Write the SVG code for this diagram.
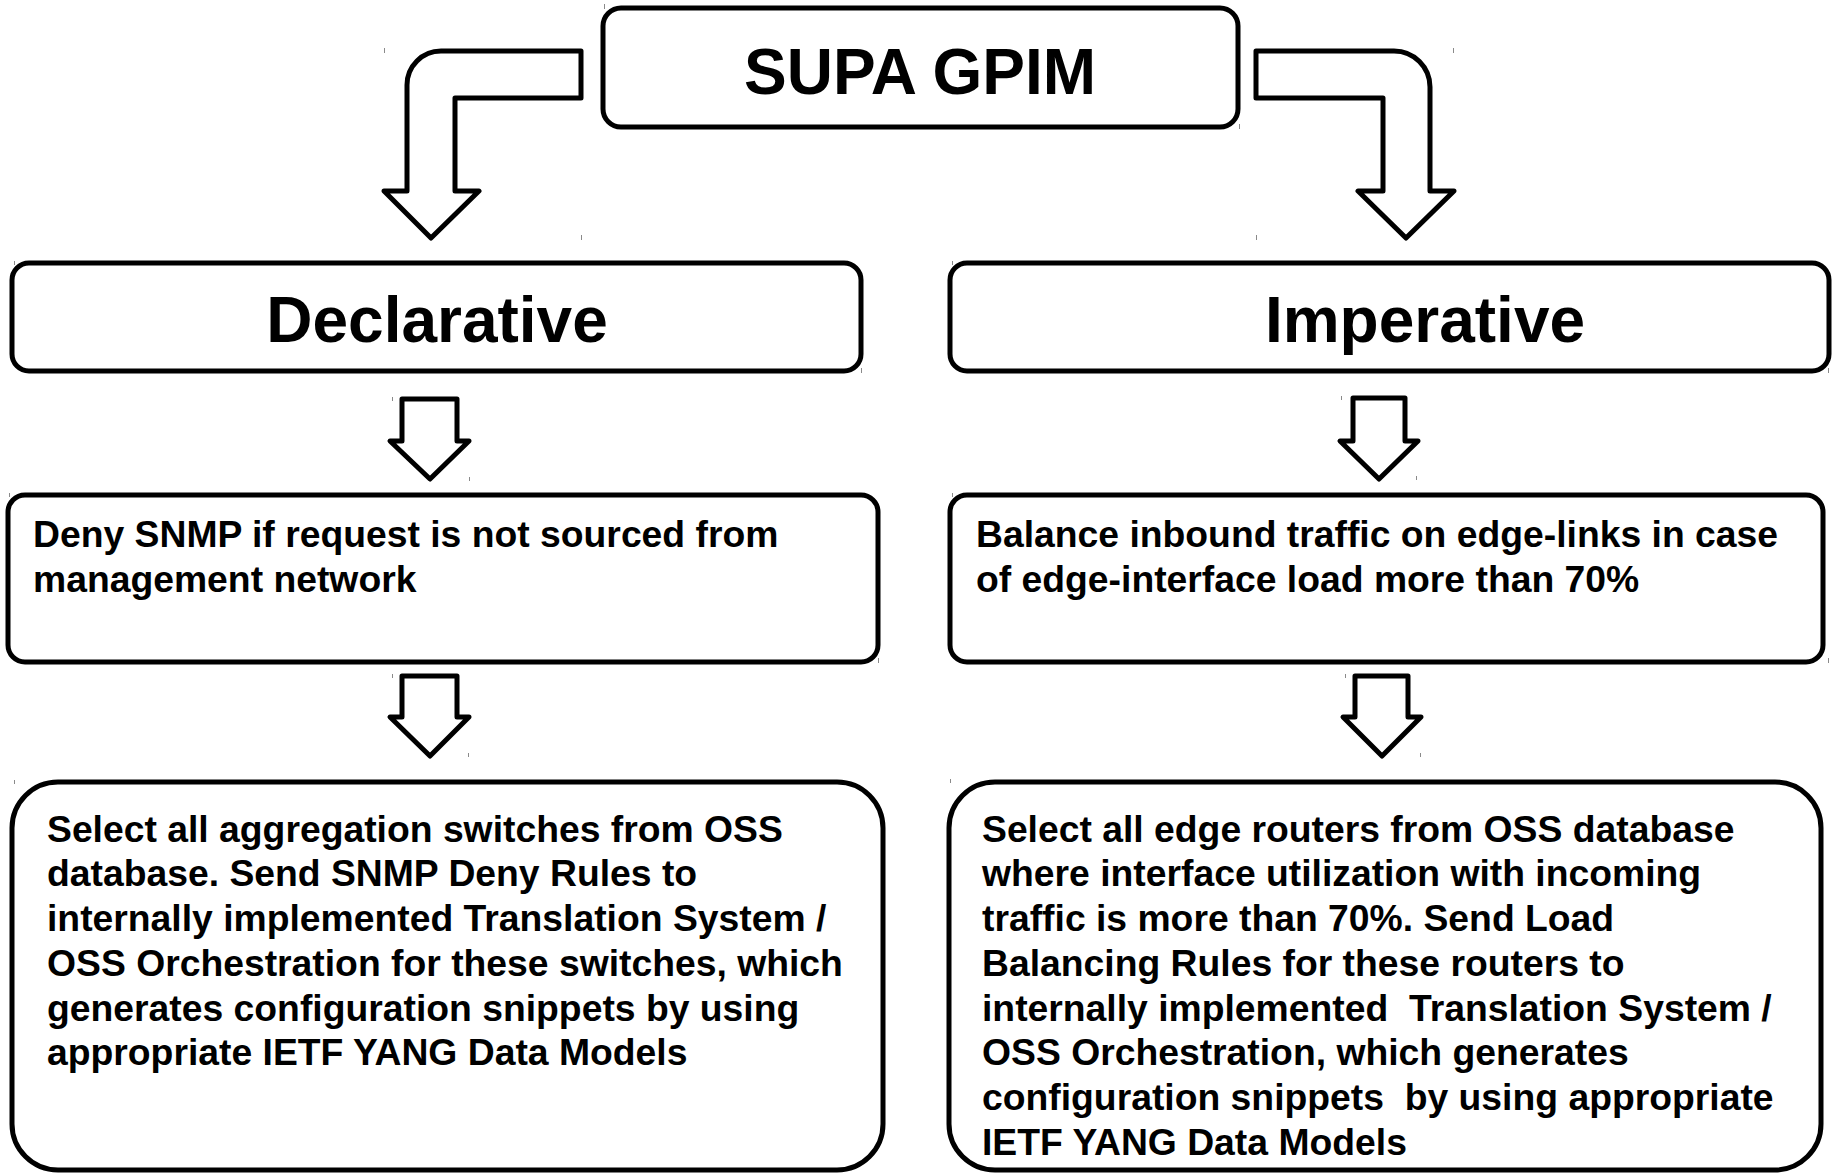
<svg xmlns="http://www.w3.org/2000/svg" width="1837" height="1173" viewBox="0 0 1837 1173">
  <style>
    .box { fill: #ffffff; stroke: #000000; stroke-width: 5; }
    .arrow { fill: #ffffff; stroke: #000000; stroke-width: 5; stroke-linejoin: round; }
    .title { font-family: "Liberation Sans", Arial, sans-serif; font-weight: bold; font-size: 64px; fill: #000000; text-anchor: middle; }
    .body { font-family: "Liberation Sans", Arial, sans-serif; font-weight: bold; font-size: 37.3px; fill: #000000; white-space: pre; }
    .tick { stroke: #8a8a8a; stroke-width: 1; }
  </style>

  <rect width="1837" height="1173" fill="#ffffff"/>

  <!-- connectors: bent and straight block arrows -->
  <g id="connectors">
    <path id="arrow-gpim-declarative" class="arrow" d="M 581 51 L 441 51 A 34 34 0 0 0 407 85 L 407 191 L 384 191 L 431 238 L 479 191 L 455 191 L 455 98 L 581 98 Z"/>
    <path id="arrow-gpim-imperative" class="arrow" d="M 1256 51 L 1394 51 A 36 36 0 0 1 1430 87 L 1430 191 L 1454 191 L 1406 238 L 1358 191 L 1383 191 L 1383 98 L 1256 98 Z"/>
    <path id="arrow-declarative-deny" class="arrow" d="M 402 399 L 457 399 L 457 441 L 469 441 L 430 479 L 390 441 L 402 441 Z"/>
    <path id="arrow-imperative-balance" class="arrow" d="M 1353 398 L 1405 398 L 1405 441 L 1418 441 L 1379 479 L 1340 441 L 1353 441 Z"/>
    <path id="arrow-deny-select" class="arrow" d="M 402 676 L 457 676 L 457 717 L 469 717 L 430 756 L 390 717 L 402 717 Z"/>
    <path id="arrow-balance-select" class="arrow" d="M 1355 676 L 1408 676 L 1408 717 L 1421 717 L 1382 756 L 1343 717 L 1355 717 Z"/>
  </g>

  <!-- top node -->
  <g id="node-supa-gpim">
    <rect class="box" x="603" y="8" width="635" height="119" rx="18"/>
    <text class="title" x="920" y="94">SUPA GPIM</text>
  </g>

  <g id="node-declarative">
    <rect class="box" x="12" y="263" width="849" height="108" rx="17"/>
    <text class="title" x="437" y="342">Declarative</text>
  </g>

  <g id="node-imperative">
    <rect class="box" x="950" y="263" width="879" height="108" rx="17"/>
    <text class="title" x="1425" y="342">Imperative</text>
  </g>

  <g id="node-deny-snmp">
    <rect class="box" x="8" y="495" width="870" height="167" rx="17"/>
    <text class="body" x="33" y="547">Deny SNMP if request is not sourced from</text>
    <text class="body" x="33" y="591.7">management network</text>
  </g>

  <g id="node-balance-traffic">
    <rect class="box" x="950" y="495" width="873" height="167" rx="17"/>
    <text class="body" x="976" y="547">Balance inbound traffic on edge-links in case</text>
    <text class="body" x="976" y="591.7">of edge-interface load more than 70%</text>
  </g>

  <g id="node-select-switches">
    <rect class="box" x="12" y="782" width="871" height="388" rx="46"/>
    <text class="body" x="47" y="841.7">Select all aggregation switches from OSS</text>
    <text class="body" x="47" y="886.4">database. Send SNMP Deny Rules to</text>
    <text class="body" x="47" y="931.1">internally implemented Translation System /</text>
    <text class="body" x="47" y="975.8">OSS Orchestration for these switches, which</text>
    <text class="body" x="47" y="1020.5">generates configuration snippets by using</text>
    <text class="body" x="47" y="1065.2">appropriate IETF YANG Data Models</text>
  </g>

  <g id="node-select-routers">
    <rect class="box" x="949" y="782" width="872" height="388" rx="46"/>
    <text class="body" x="982" y="841.7">Select all edge routers from OSS database</text>
    <text class="body" x="982" y="886.4">where interface utilization with incoming</text>
    <text class="body" x="982" y="931.1">traffic is more than 70%. Send Load</text>
    <text class="body" x="982" y="975.8">Balancing Rules for these routers to</text>
    <text class="body" x="982" y="1020.5">internally implemented  Translation System /</text>
    <text class="body" x="982" y="1065.2">OSS Orchestration, which generates</text>
    <text class="body" x="982" y="1109.9">configuration snippets  by using appropriate</text>
    <text class="body" x="982" y="1154.6">IETF YANG Data Models</text>
  </g>

  <!-- small corner marks left at shape bounds -->
  <g id="marks">
    <line class="tick" x1="384.5" y1="48" x2="384.5" y2="53"/>
    <line class="tick" x1="581.5" y1="235" x2="581.5" y2="240"/>
    <line class="tick" x1="604.5" y1="4" x2="604.5" y2="9"/>
    <line class="tick" x1="1239.5" y1="124" x2="1239.5" y2="129"/>
    <line class="tick" x1="1453.5" y1="48" x2="1453.5" y2="53"/>
    <line class="tick" x1="1256.5" y1="235" x2="1256.5" y2="240"/>
    <line class="tick" x1="14.5" y1="261" x2="14.5" y2="265"/>
    <line class="tick" x1="861.5" y1="368" x2="861.5" y2="373"/>
    <line class="tick" x1="952.5" y1="261" x2="952.5" y2="265"/>
    <line class="tick" x1="1828.5" y1="368" x2="1828.5" y2="373"/>
    <line class="tick" x1="392.5" y1="397" x2="392.5" y2="401"/>
    <line class="tick" x1="469.5" y1="477" x2="469.5" y2="481"/>
    <line class="tick" x1="1341.5" y1="396" x2="1341.5" y2="400"/>
    <line class="tick" x1="1416.5" y1="476" x2="1416.5" y2="480"/>
    <line class="tick" x1="9.5" y1="493" x2="9.5" y2="497"/>
    <line class="tick" x1="878.5" y1="658" x2="878.5" y2="663"/>
    <line class="tick" x1="952.5" y1="493" x2="952.5" y2="497"/>
    <line class="tick" x1="1828.5" y1="658" x2="1828.5" y2="663"/>
    <line class="tick" x1="392.5" y1="674" x2="392.5" y2="678"/>
    <line class="tick" x1="468.5" y1="753" x2="468.5" y2="757"/>
    <line class="tick" x1="1345.5" y1="674" x2="1345.5" y2="678"/>
    <line class="tick" x1="1420.5" y1="753" x2="1420.5" y2="757"/>
    <line class="tick" x1="14.5" y1="780" x2="14.5" y2="784"/>
    <line class="tick" x1="950.5" y1="779" x2="950.5" y2="783"/>
  </g>
</svg>
